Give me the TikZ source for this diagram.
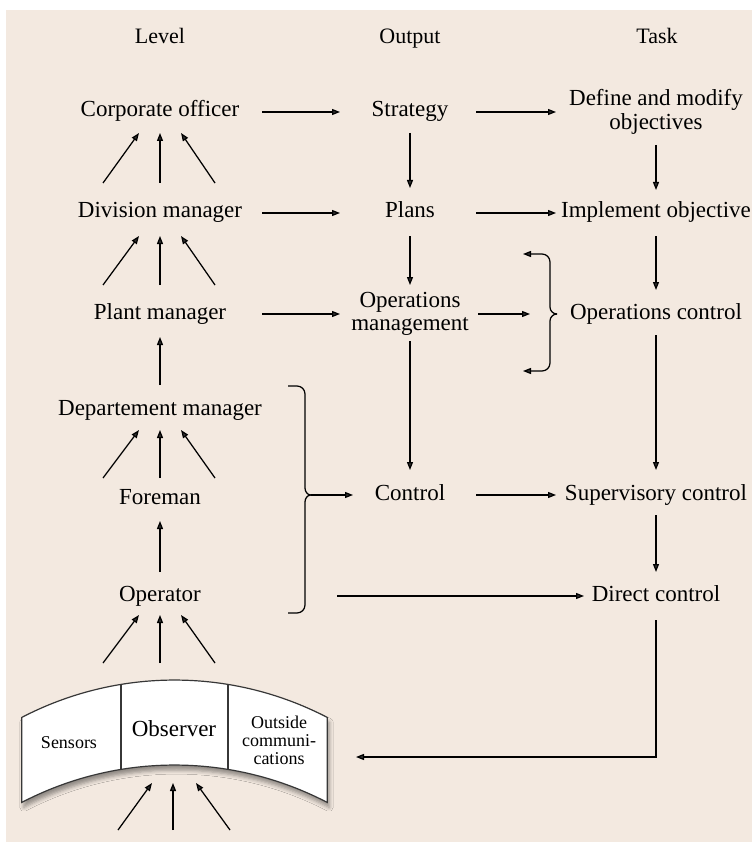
\documentclass[tikz,border=0pt]{standalone}
\usepackage{fontspec}
\setmainfont{Liberation Serif}
\usetikzlibrary{arrows.meta,calc,shadows.blur}
\definecolor{bgc}{RGB}{243,233,224}
\definecolor{edge}{RGB}{55,55,55}
\newcommand\fanup[4]{%
  \draw[arr] ($(#1)+(-57,#3)$) -- ($(#2)+(-21,-#4)$);
  \draw[arr] ($(#1)+(0,#3)$) -- ($(#2)+(0,-#4)$);
  \draw[arr] ($(#1)+(55,#3)$) -- ($(#2)+(21,-#4)$);}
\begin{document}
\begin{tikzpicture}[x=1pt,y=1pt,
  lab/.style={font=\fontsize{23}{23.5}\selectfont, inner sep=0pt, text height=15pt, text depth=5pt},
  lab2/.style={font=\fontsize{23}{23.5}\selectfont, inner sep=0pt, align=center},
  hdr/.style={font=\fontsize{22}{23}\selectfont, inner sep=0pt, text height=15pt, text depth=5pt},
  small/.style={font=\fontsize{18}{18}\selectfont, inner sep=0pt, align=center},
  arr/.style={line width=1.25pt, -{Triangle[length=8pt,width=6pt]}},
  ln/.style={line width=1.25pt}]
\useasboundingbox (0,0) rectangle (752,-842);
\fill[bgc] (6,-10) rectangle (752,-842);

% headers
\node[hdr] (hL) at (160,-39) {Level};
\node[hdr] (hO) at (410,-39) {Output};
\node[hdr] (hT) at (657,-39) {Task};

% level column
\node[lab] (corp)  at (160,-112) {Corporate officer};
\node[lab] (div)   at (160,-213) {Division manager};
\node[lab] (plant) at (160,-314) {Plant manager};
\node[lab] (dept)  at (160,-410) {Departement manager};
\node[lab] (fore)  at (160,-499) {Foreman};
\node[lab] (oper)  at (160,-596) {Operator};

% output column
\node[lab]  (strat) at (410,-112) {Strategy};
\node[lab]  (plans) at (410,-213) {Plans};
\node[lab2] (opm)   at (410,-314) {Operations\\management};
\node[lab]  (ctrl)  at (410,-495) {Control};

% task column
\node[lab2] (def)    at (656,-112) {Define and modify\\objectives};
\node[lab]  (impl)   at (656,-213) {Implement objective};
\node[lab]  (opc)    at (656,-314) {Operations control};
\node[lab]  (sup)    at (656,-495) {Supervisory control};
\node[lab]  (direct) at (656,-596) {Direct control};

% observer shape
\path[draw=edge, line width=1.2pt, fill=white,
      blur shadow={shadow xshift=2pt, shadow yshift=-5pt, shadow blur radius=4pt, shadow opacity=40}]
  (21.8,-717.4) arc[start angle=117.5, end angle=62.5, radius=330.7]
  -- ++(0,-85) arc[start angle=62.5, end angle=117.5, radius=330.7] -- cycle;
\draw[edge, line width=1.2pt] (121,-684.4) -- (121,-769.4);
\draw[edge, line width=1.2pt] (228,-684.4) -- (228,-769.4);
\node[lab2] (obs) at (174,-729) {Observer};
\node[small] (sens) at (69,-743) {Sensors};
\node[small] (outs) at (279,-740) {Outside\\communi-\\cations};

\coordinate (obsfan) at (160,-663);
\coordinate (inbase) at (173,-830);
\coordinate (obsin)  at (356,-757);
\coordinate (rbt)    at (557,-314);
\coordinate (lbt)    at (311,-495);

% horizontal arrows
\draw[arr] ($(corp)+(102,0)$)  -- ($(strat)+(-70,0)$);
\draw[arr] ($(strat)+(66,0)$)  -- ($(def)+(-100,0)$);
\draw[arr] ($(div)+(102,0)$)   -- ($(plans)+(-70,0)$);
\draw[arr] ($(plans)+(66,0)$)  -- ($(impl)+(-100,0)$);
\draw[arr] ($(plant)+(102,0)$) -- ($(opm)+(-70,0)$);
\draw[arr] ($(opm)+(68,0)$)    -- ($(rbt)+(-27,0)$);
\draw[arr] (lbt) -- ($(ctrl)+(-57,0)$);
\draw[arr] ($(ctrl)+(66,0)$)   -- ($(sup)+(-100,0)$);
\draw[arr] ($(oper)+(177,0)$)  -- ($(direct)+(-72,0)$);

% vertical arrows (output / task)
\draw[arr] ($(strat)+(0,-21)$) -- ($(plans)+(0,25)$);
\draw[arr] ($(def)+(0,-33)$)   -- ($(impl)+(0,23)$);
\draw[arr] ($(plans)+(0,-23)$) -- ($(opm)+(0,29)$);
\draw[arr] ($(impl)+(0,-23)$)  -- ($(opc)+(0,24)$);
\draw[arr] ($(opm)+(0,-27)$)   -- ($(ctrl)+(0,25)$);
\draw[arr] ($(opc)+(0,-21)$)   -- ($(sup)+(0,25)$);
\draw[arr] ($(sup)+(0,-20)$)   -- ($(direct)+(0,24)$);
\draw[arr] ($(direct)+(0,-24)$) |- (obsin);

% level column arrows
\fanup{div}{corp}{30}{21}
\fanup{plant}{div}{29}{23}
\draw[arr] ($(dept)+(0,25)$) -- ($(plant)+(0,-23)$);
\fanup{fore}{dept}{21}{20}
\draw[arr] ($(oper)+(0,24)$) -- ($(fore)+(0,-22)$);
\fanup{obsfan}{oper}{0}{19}
\draw[arr] ($(inbase)+(-55,0)$) -- ($(inbase)+(-21,47)$);
\draw[arr] (inbase) -- ($(inbase)+(0,47)$);
\draw[arr] ($(inbase)+(57,0)$) -- ($(inbase)+(23,47)$);

% braces
\draw[arr] (rbt) to[out=180,in=-90] (550,-307) -- (550,-262) to[out=90,in=0] (542,-254) -- (523,-254);
\draw[arr] (rbt) to[out=180,in=90] (550,-321) -- (550,-363) to[out=-90,in=0] (542,-371) -- (523,-371);
\draw[ln] (288,-386) -- (297,-386) to[out=0,in=90] (305,-394) -- (305,-488) to[out=-90,in=180] (lbt)
  to[out=180,in=90] (305,-502) -- (305,-605) to[out=-90,in=0] (297,-613) -- (288,-613);
\end{tikzpicture}
\end{document}
